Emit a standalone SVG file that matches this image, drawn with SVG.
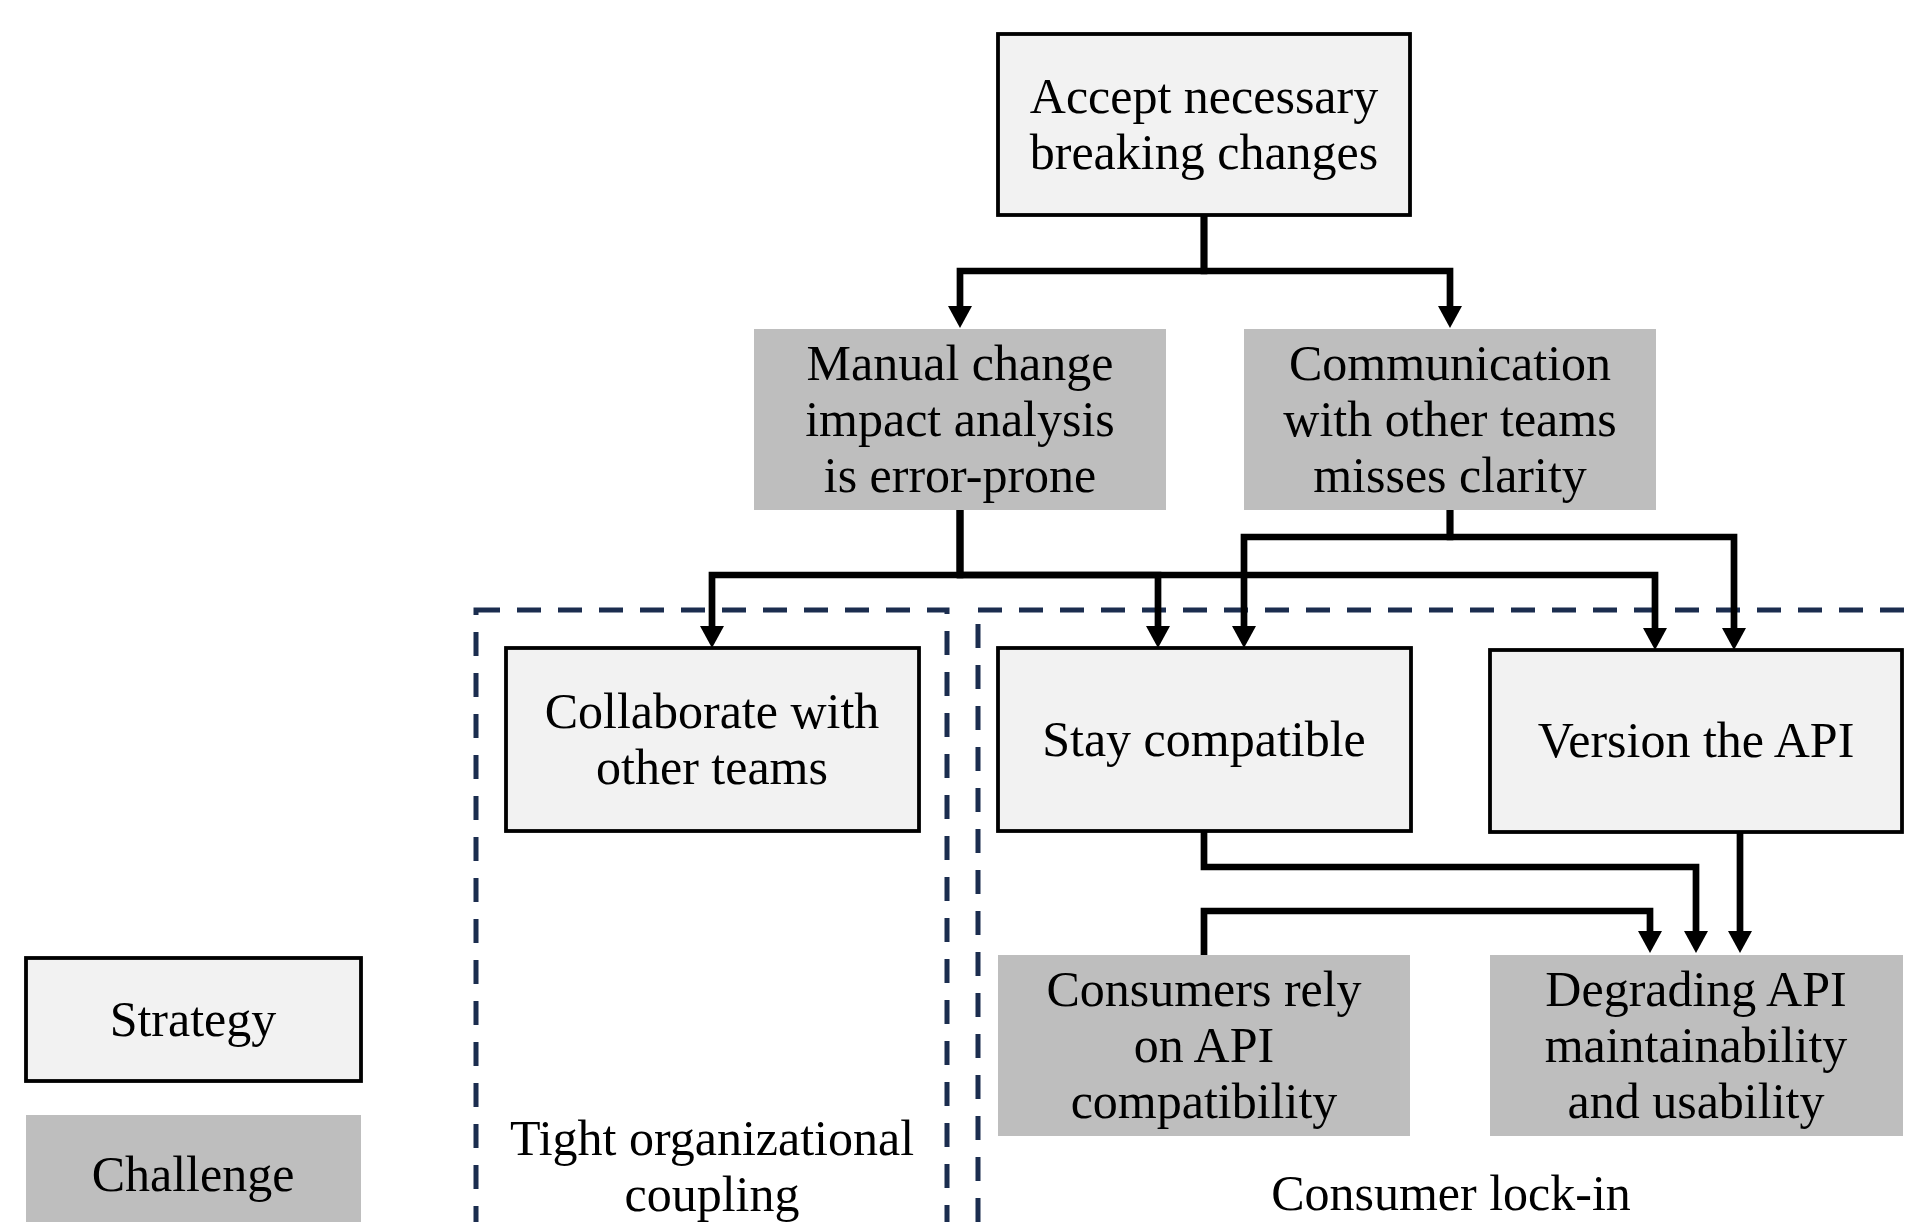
<svg xmlns="http://www.w3.org/2000/svg" width="1916" height="1222" viewBox="0 0 1916 1222">
<style>
.strategy{fill:#f2f2f2;stroke:#000;stroke-width:3.8}
.challenge{fill:#bebebe;stroke:none}
.t{font-family:"Liberation Serif","Times New Roman",serif;font-size:50px;fill:#000;text-anchor:middle}
.region{fill:none;stroke:#1b2d4f;stroke-width:5;stroke-dasharray:24 17}
.conn{fill:none;stroke:#000;stroke-width:6.7;stroke-linejoin:miter}
</style>
<defs>
<marker id="arrow" markerUnits="userSpaceOnUse" markerWidth="26" markerHeight="26" viewBox="0 0 26 26" refX="2" refY="12" orient="auto">
<path d="M0,0 L22,12 L0,24 Z" fill="#000"/>
</marker>
</defs>
<rect width="1916" height="1222" fill="#fff"/>
<g id="regions">
<rect class="region" x="476" y="610" width="471" height="700"/>
<rect class="region" x="978" y="610" width="1000" height="700"/>
</g>
<g id="connectors">
<path class="conn" d="M1204,215 V271 H960 V308" marker-end="url(#arrow)"/>
<path class="conn" d="M1204,215 V271 H1450 V308" marker-end="url(#arrow)"/>
<path class="conn" d="M960,510 V575 H712 V628" marker-end="url(#arrow)"/>
<path class="conn" d="M960,510 V575 H1158 V628" marker-end="url(#arrow)"/>
<path class="conn" d="M960,510 V575 H1655 V630" marker-end="url(#arrow)"/>
<path class="conn" d="M1450,510 V537 H1244 V628" marker-end="url(#arrow)"/>
<path class="conn" d="M1450,510 V537 H1734 V630" marker-end="url(#arrow)"/>
<path class="conn" d="M1204,831 V867 H1696 V933" marker-end="url(#arrow)"/>
<path class="conn" d="M1740,832 V933" marker-end="url(#arrow)"/>
<path class="conn" d="M1204,955 V911 H1650 V933" marker-end="url(#arrow)"/>
</g>
<g id="accept">
<rect class="strategy" x="998" y="34" width="412" height="181"/>
<text class="t" x="1204" y="113">Accept necessary</text>
<text class="t" x="1204" y="169">breaking changes</text>
</g>
<g id="manual">
<rect class="challenge" x="754" y="329" width="412" height="181"/>
<text class="t" x="960" y="380">Manual change</text>
<text class="t" x="960" y="436">impact analysis</text>
<text class="t" x="960" y="492">is error-prone</text>
</g>
<g id="communication">
<rect class="challenge" x="1244" y="329" width="412" height="181"/>
<text class="t" x="1450" y="380">Communication</text>
<text class="t" x="1450" y="436">with other teams</text>
<text class="t" x="1450" y="492">misses clarity</text>
</g>
<g id="collaborate">
<rect class="strategy" x="506" y="648" width="413" height="183"/>
<text class="t" x="712" y="728">Collaborate with</text>
<text class="t" x="712" y="784">other teams</text>
</g>
<g id="stay">
<rect class="strategy" x="998" y="648" width="413" height="183"/>
<text class="t" x="1204" y="756">Stay compatible</text>
</g>
<g id="version">
<rect class="strategy" x="1490" y="650" width="412" height="182"/>
<text class="t" x="1696" y="757">Version the API</text>
</g>
<g id="consumers">
<rect class="challenge" x="998" y="955" width="412" height="181"/>
<text class="t" x="1204" y="1006">Consumers rely</text>
<text class="t" x="1204" y="1062">on API</text>
<text class="t" x="1204" y="1118">compatibility</text>
</g>
<g id="degrading">
<rect class="challenge" x="1490" y="955" width="413" height="181"/>
<text class="t" x="1696" y="1006">Degrading API</text>
<text class="t" x="1696" y="1062">maintainability</text>
<text class="t" x="1696" y="1118">and usability</text>
</g>
<g id="region-labels">
<text class="t" x="712" y="1155">Tight organizational</text>
<text class="t" x="712" y="1211">coupling</text>
<text class="t" x="1451" y="1210">Consumer lock-in</text>
</g>
<g id="legend-strategy">
<rect class="strategy" x="26" y="958" width="335" height="123"/>
<text class="t" x="193" y="1036">Strategy</text>
</g>
<g id="legend-challenge">
<rect class="challenge" x="26" y="1115" width="335" height="124"/>
<text class="t" x="193" y="1191">Challenge</text>
</g>
</svg>
